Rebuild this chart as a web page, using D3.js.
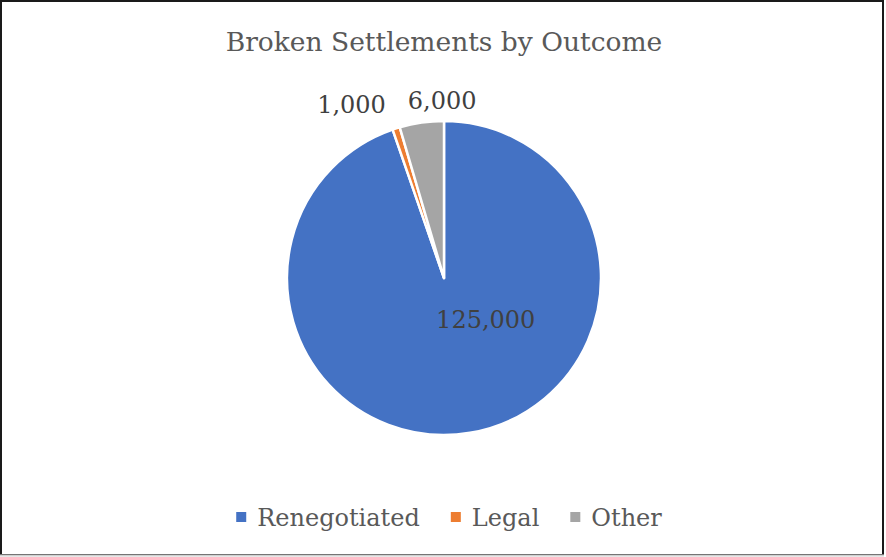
<!DOCTYPE html>
<html>
<head>
<meta charset="utf-8">
<script src="https://cdn.jsdelivr.net/npm/d3@7"></script>
<style>
  html, body { margin: 0; padding: 0; background: #fff; }
  svg { display: block; }
</style>
</head>
<body>
<div id="chart"></div>
<script>
var categories = ['Renegotiated', 'Legal', 'Other']
var values = [125000, 1000, 6000]
var colors = ['#4472C4', '#ED7D31', '#A5A5A5']

var width = 886
var height = 557
var cx = 444, cy = 278
var radius = 157
var fontFamily = '"DejaVu Serif", "Liberation Serif", serif'

var formatNumber = d3.format(',d')

// where Excel's "best fit" put each data label: angle (deg, clockwise from 12 o'clock), distance from centre
var labelPlace = [
  { angle: 135, r: 59 },
  { angle: -28, r: 197 },
  { angle: -0.6, r: 178 }
]

var svg = d3.select('#chart').append('svg')
    .attr('width', width)
    .attr('height', height)

// chart border
svg.append('rect')
    .attr('x', 1).attr('y', 1)
    .attr('width', 882).attr('height', 554)
    .style('fill', '#fff')
    .style('stroke', '#1a1a1a')
    .style('stroke-width', 2)
svg.append('line')
    .attr('x1', 0).attr('x2', 884)
    .attr('y1', 555.5).attr('y2', 555.5)
    .style('stroke', '#d0d0d0')
    .style('stroke-width', 2)

svg.append('text')
    .attr('x', cx)
    .attr('y', 51)
    .attr('text-anchor', 'middle')
    .style('font-family', fontFamily)
    .style('font-size', '26.5px')
    .style('fill', '#595959')
    .text('Broken Settlements by Outcome')

var color = d3.scaleOrdinal().domain(categories).range(colors)

var pie = d3.pie().sort(null).value(d => d.value)
var arc = d3.arc().innerRadius(0).outerRadius(radius)

var data = categories.map((c, i) => ({ name: c, value: values[i] }))

var g = svg.append('g').attr('transform', `translate(${cx},${cy})`)

g.selectAll('path.slice')
    .data(pie(data))
    .enter().append('path')
    .attr('class', 'slice')
    .attr('d', arc)
    .style('fill', d => color(d.data.name))
    .style('stroke', '#fff')
    .style('stroke-width', 2.5)
    .style('stroke-linejoin', 'round')

g.selectAll('text.label')
    .data(pie(data))
    .enter().append('text')
    .attr('class', 'label')
    .attr('x', (d, i) => labelPlace[i].r * Math.sin(labelPlace[i].angle * Math.PI / 180))
    .attr('y', (d, i) => -labelPlace[i].r * Math.cos(labelPlace[i].angle * Math.PI / 180))
    .attr('dy', '0.36em')
    .attr('text-anchor', 'middle')
    .style('font-family', fontFamily)
    .style('font-size', '24px')
    .style('fill', '#404040')
    .text(d => formatNumber(d.data.value))

// legend, centred under the pie
var legend = svg.append('g')
var items = legend.selectAll('g.item')
    .data(categories)
    .enter().append('g').attr('class', 'item')

items.append('rect')
    .attr('width', 10).attr('height', 10)
    .attr('y', -14)
    .style('fill', d => color(d))

items.append('text')
    .attr('x', 21)
    .style('font-family', fontFamily)
    .style('font-size', '24px')
    .style('fill', '#595959')
    .text(d => d)

var xpos = 0
items.each(function() {
  var item = d3.select(this)
  item.attr('transform', `translate(${xpos},0)`)
  xpos += 21 + item.select('text').node().getComputedTextLength() + 31
})
var legendWidth = xpos - 31
legend.attr('transform', `translate(${cx + 5 - legendWidth / 2},526)`)
</script>
</body>
</html>
